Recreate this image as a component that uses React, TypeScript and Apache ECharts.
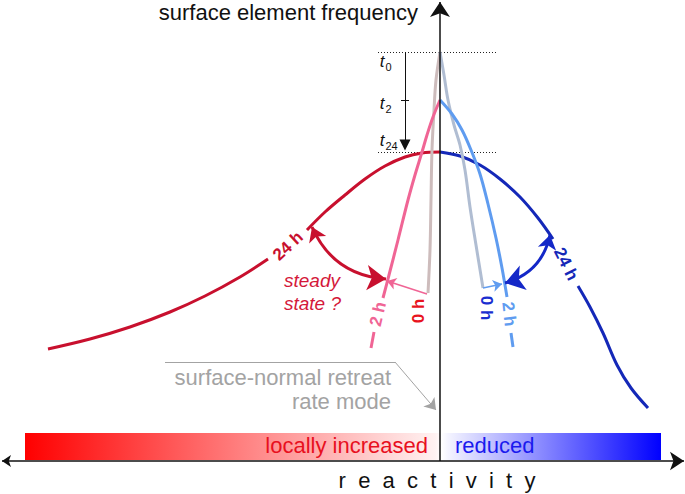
import React, { useEffect, useRef } from 'react';
import * as echarts from 'echarts';

const FONT = '"Liberation Sans", Arial, Helvetica, sans-serif';

// ---- curves (x: reactivity position, y: frequency position measured from top) ----
const grayLeft0h = [[440, 52], [436, 80], [434, 110], [432, 150], [431, 200], [430, 250], [428, 293]];
const grayRight0h = [[440, 52], [444, 75], [448, 100], [454, 125], [460, 145], [465, 170], [470, 207], [476, 245], [483, 288]];
const pink2hUpper = [[440, 100], [433, 117], [427, 135], [422, 152], [415, 175], [408, 200], [398, 240], [389, 275], [383, 298]];
const pink2hLower = [[374, 332], [371, 348]];
const lightBlue2hUpper = [[440, 100], [452, 114], [462, 130], [471, 150], [480, 174], [488, 204], [496, 238], [502, 268], [507, 297]];
const lightBlue2hLower = [[511, 333], [513, 347]];
const red24hOuter = [[48, 349], [90, 339], [130, 327], [170, 312], [205, 296], [240, 277], [268, 259]];
const red24hInner = [[307, 230], [325, 212], [345, 195], [365, 179], [385, 166], [405, 157], [422, 153], [440, 152]];
const blue24hInner = [[440, 152], [460, 156], [480, 165], [500, 179], [520, 197], [538, 218], [553, 239]];
const blue24hOuter = [[578, 286], [590, 307], [603, 333], [617, 365], [631, 388], [648, 408]];

// ---- arrows / guide lines ----
const yAxisArrow = [[440, 461], [440, 2]];
const xAxisArrow = [[2, 461], [684, 461]];
const timeArrow = [[405, 52], [405, 145]];
const timeTick = [[401, 100], [409, 100]];
const dottedT0 = [[378, 52], [498, 52]];
const dottedT24 = [[378, 152], [498, 152]];
const steadyArrowRed = [[312, 227], [386, 279]];
const steadyArrowBlue = [[550, 235], [505, 283]];
const shiftArrowRed = [[427, 294], [387, 281]];
const shiftArrowBlue = [[483, 288], [502, 284]];
const modeLeader = [[165, 362], [395, 362]];
const modeArrow = [[395, 362], [436, 410]];

// ---- texts ----
const yTitle = 'surface element frequency';
const xTitle = 'r  e  a  c  t  i  v  i  t  y';
const increasedLabel = 'locally increased';
const reducedLabel = 'reduced';
const steadyLabel = 'steady\nstate ?';
const modeLabel = 'surface-normal retreat\nrate mode';
const timeLabels = [
  { sub: '0', y: 61 },
  { sub: '2', y: 103 },
  { sub: '24', y: 140 },
];
const curveLabels = [
  { text: '24 h', x: 288, y: 246, rot: 0.75, color: '#c8102e' },
  { text: '2 h', x: 378, y: 314, rot: 1.34, color: '#f06595' },
  { text: '0 h', x: 418, y: 311, rot: Math.PI / 2, color: '#e8141e' },
  { text: '0 h', x: 486, y: 308, rot: -Math.PI / 2, color: '#1a2ed0' },
  { text: '2 h', x: 509, y: 314, rot: -1.46, color: '#5f9cf0' },
  { text: '24 h', x: 566, y: 264, rot: -1.1, color: '#1428b8' },
];

const curve = (data: number[][], color: string, z: number, width = 3) => ({
  type: 'line',
  data,
  smooth: 0.35,
  showSymbol: false,
  symbol: 'none',
  silent: true,
  z,
  lineStyle: { color, width },
});

const arrow = (
  coords: number[][],
  color: string,
  width: number,
  symbol: string[],
  symbolSize: number[],
  curveness = 0,
  type: any = 'solid',
  z = 5
) => ({
  type: 'lines',
  coordinateSystem: 'cartesian2d',
  silent: true,
  z,
  symbol,
  symbolSize,
  lineStyle: { color, width, curveness, type, opacity: 1 },
  data: [{ coords }],
});

const text = (t: string, x: number, y: number, o: any = {}) => ({
  type: 'text',
  x,
  y,
  rotation: o.rotation || 0,
  z: 100,
  silent: true,
  style: {
    text: t,
    fill: o.fill || '#111',
    fontSize: o.fontSize || 20,
    fontFamily: FONT,
    fontWeight: o.fontWeight || 'normal',
    fontStyle: o.fontStyle || 'normal',
    lineHeight: o.lineHeight,
    align: o.align || 'center',
    verticalAlign: o.verticalAlign || 'middle',
    textAlign: o.align || 'center',
    textVerticalAlign: o.verticalAlign || 'middle',
  },
});

export default function App() {
  const ref = useRef<HTMLDivElement>(null);
  useEffect(() => {
    if (!ref.current) return;
    const chart = echarts.init(ref.current, null, { renderer: 'svg' });
    const graphics: any[] = [
      {
        type: 'rect',
        z: 0,
        silent: true,
        shape: { x: 25, y: 433, width: 636, height: 27 },
        style: {
          fill: new echarts.graphic.LinearGradient(0, 0, 1, 0, [
            { offset: 0, color: '#ff0000' },
            { offset: 0.645, color: '#fff2f2' },
            { offset: 0.655, color: '#ffffff' },
            { offset: 0.665, color: '#f4f4ff' },
            { offset: 1, color: '#0000ff' },
          ]),
        },
      },
      text(yTitle, 418, 12, { align: 'right', fontSize: 22 }),
      text(xTitle, 437, 480, { fontSize: 22 }),
      text(increasedLabel, 428, 445, { align: 'right', fontSize: 22, fill: '#e8101e' }),
      text(reducedLabel, 455, 445, { align: 'left', fontSize: 22, fill: '#1a1aee' }),
      text(steadyLabel, 284, 292, {
        align: 'left',
        fontSize: 19,
        fontStyle: 'italic',
        fill: '#d4183a',
        lineHeight: 23,
      }),
      text(modeLabel, 391, 389, { align: 'right', fontSize: 22, fill: '#a3a3a3', lineHeight: 24 }),
    ];
    timeLabels.forEach((l) => {
      graphics.push(text('t', 382, l.y, { fontSize: 17, fontStyle: 'italic' }));
      graphics.push(text(l.sub, 385.5, l.y + 6, { fontSize: 11, align: 'left' }));
    });
    curveLabels.forEach((l) => {
      graphics.push(
        text(l.text, l.x, l.y, { rotation: l.rot, fill: l.color, fontSize: 17, fontWeight: 'bold' })
      );
    });

    chart.setOption({
      animation: false,
      backgroundColor: '#ffffff',
      grid: { left: 0, right: 0, top: 0, bottom: 0 },
      xAxis: { type: 'value', min: 0, max: 685, show: false },
      yAxis: { type: 'value', min: 0, max: 494, inverse: true, show: false },
      graphic: { elements: graphics },
      series: [
        arrow(dottedT0, '#222', 1, ['none', 'none'], [1, 1], 0, [1, 2], 3),
        arrow(dottedT24, '#222', 1, ['none', 'none'], [1, 1], 0, [1, 2], 3),
        curve(red24hOuter, '#c8102e', 4),
        curve(red24hInner, '#c8102e', 4),
        curve(blue24hInner, '#1428b8', 4),
        curve(blue24hOuter, '#1428b8', 4),
        curve(grayLeft0h, '#cdbcbc', 5),
        curve(grayRight0h, '#b0bdd2', 5),
        curve(pink2hUpper, '#f06595', 6),
        curve(pink2hLower, '#f06595', 6),
        curve(lightBlue2hUpper, '#5f9cf0', 6),
        curve(lightBlue2hLower, '#5f9cf0', 6),
        arrow(yAxisArrow, '#111', 1.5, ['none', 'arrow'], [9, 15], 0, 'solid', 8),
        arrow(xAxisArrow, '#111', 1.5, ['arrow', 'arrow'], [9, 14], 0, 'solid', 8),
        arrow(timeArrow, '#111', 1, ['none', 'triangle'], [10, 11], 0, 'solid', 8),
        arrow(timeTick, '#111', 1, ['none', 'none'], [1, 1], 0, 'solid', 8),
        arrow(steadyArrowRed, '#c8102e', 3, ['arrow', 'arrow'], [14, 19], -0.3, 'solid', 9),
        arrow(steadyArrowBlue, '#1428c8', 3, ['arrow', 'arrow'], [14, 19], 0.3, 'solid', 9),
        arrow(shiftArrowRed, '#f06595', 1.5, ['none', 'arrow'], [6, 9], 0, 'solid', 9),
        arrow(shiftArrowBlue, '#5f9cf0', 1.5, ['none', 'arrow'], [6, 9], 0, 'solid', 9),
        arrow(modeLeader, '#a3a3a3', 1, ['none', 'none'], [1, 1], 0, 'solid', 7),
        arrow(modeArrow, '#a3a3a3', 1, ['none', 'arrow'], [7, 11], 0, 'solid', 7),
      ],
    });
    return () => chart.dispose();
  }, []);
  return (
    <div
      ref={ref}
      style={{ position: 'fixed', left: 0, top: 0, width: 685, height: 494, background: '#fff' }}
    />
  );
}
